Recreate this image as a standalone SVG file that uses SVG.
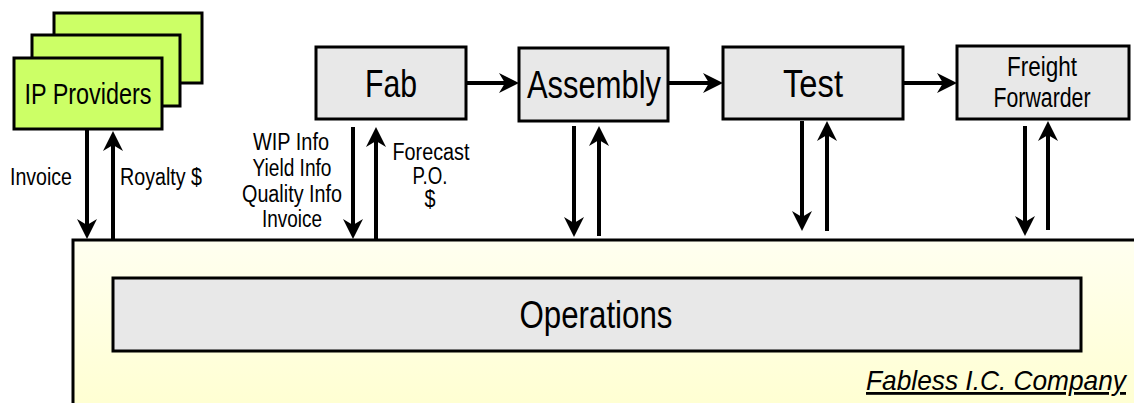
<svg xmlns="http://www.w3.org/2000/svg" width="1134" height="403" viewBox="0 0 1134 403">
<style>
text{font-family:"Liberation Sans Narrow","Arial Narrow","Liberation Sans",Arial,sans-serif;fill:#000;text-anchor:middle}
.box{fill:#E8E8E8;stroke:#000;stroke-width:3}
.ip{fill:#CCFF66;stroke:#000;stroke-width:3}
.big{font-size:39px}
.lbl{font-size:23px}
.arr{stroke:#000;stroke-width:4;fill:none;marker-end:url(#ah)}
</style>
<defs>
<linearGradient id="yel" x1="0" y1="0" x2="0" y2="1">
<stop offset="0" stop-color="#FFFFF0"/>
<stop offset="1" stop-color="#FFFFCC"/>
</linearGradient>
<marker id="ah" markerUnits="userSpaceOnUse" markerWidth="20" markerHeight="20" refX="9" refY="10" orient="auto">
<path d="M0,0 L20,10 L0,20 L6,10 z" fill="#000"/>
</marker>
</defs>
<g id="company">
<rect x="73" y="240" width="1100" height="200" fill="url(#yel)" stroke="#000" stroke-width="3"/>
<text x="1126" y="390" font-size="28" font-style="italic" text-decoration="underline" style="text-anchor:end" textLength="260" lengthAdjust="spacingAndGlyphs">Fabless I.C. Company</text>
</g>
<g id="operations">
<rect class="box" x="113" y="278" width="968" height="73"/>
<text class="big" x="596" y="328" textLength="153" lengthAdjust="spacingAndGlyphs">Operations</text>
</g>
<g id="ip-providers">
<rect class="ip" x="54" y="13" width="148" height="70"/>
<rect class="ip" x="32" y="35" width="148" height="71"/>
<rect class="ip" x="14" y="58" width="148" height="71"/>
<text x="88" y="104" font-size="29" textLength="127" lengthAdjust="spacingAndGlyphs">IP Providers</text>
</g>
<g id="fab">
<rect class="box" x="316" y="47" width="150" height="72"/>
<text class="big" x="391" y="97" textLength="52" lengthAdjust="spacingAndGlyphs">Fab</text>
</g>
<g id="assembly">
<rect class="box" x="519" y="48" width="149" height="73"/>
<text class="big" x="594" y="98" textLength="134" lengthAdjust="spacingAndGlyphs">Assembly</text>
</g>
<g id="test">
<rect class="box" x="723" y="47" width="180" height="72"/>
<text class="big" x="813" y="97" textLength="60" lengthAdjust="spacingAndGlyphs">Test</text>
</g>
<g id="freight-forwarder">
<rect class="box" x="957" y="46" width="172" height="73"/>
<text x="1042" y="76" font-size="27" textLength="70" lengthAdjust="spacingAndGlyphs">Freight</text>
<text x="1042" y="107" font-size="27" textLength="97" lengthAdjust="spacingAndGlyphs">Forwarder</text>
</g>
<g id="connectors">
<line class="arr" x1="466" y1="83" x2="508" y2="83"/>
<line class="arr" x1="668" y1="83" x2="712" y2="83"/>
<line class="arr" x1="903" y1="83" x2="946" y2="83"/>
<line class="arr" x1="87" y1="130" x2="87" y2="228"/>
<line class="arr" x1="113" y1="240" x2="113" y2="142"/>
<line class="arr" x1="353" y1="127" x2="353" y2="228"/>
<line class="arr" x1="376" y1="240" x2="376" y2="138"/>
<line class="arr" x1="574" y1="126" x2="574" y2="226"/>
<line class="arr" x1="599" y1="236" x2="599" y2="137"/>
<line class="arr" x1="802" y1="121" x2="802" y2="220"/>
<line class="arr" x1="827" y1="231" x2="827" y2="132"/>
<line class="arr" x1="1025" y1="126" x2="1025" y2="225"/>
<line class="arr" x1="1048" y1="230" x2="1048" y2="132"/>
</g>
<g id="labels">
<text class="lbl" x="41" y="185" textLength="62" lengthAdjust="spacingAndGlyphs">Invoice</text>
<text class="lbl" x="161" y="185" textLength="82" lengthAdjust="spacingAndGlyphs">Royalty $</text>
<text class="lbl" x="291" y="150" textLength="76" lengthAdjust="spacingAndGlyphs">WIP Info</text>
<text class="lbl" x="292" y="176" textLength="79" lengthAdjust="spacingAndGlyphs">Yield Info</text>
<text class="lbl" x="292" y="202" textLength="100" lengthAdjust="spacingAndGlyphs">Quality Info</text>
<text class="lbl" x="292" y="227" textLength="60" lengthAdjust="spacingAndGlyphs">Invoice</text>
<text class="lbl" x="431" y="160" textLength="77" lengthAdjust="spacingAndGlyphs">Forecast</text>
<text class="lbl" x="430" y="184" textLength="35" lengthAdjust="spacingAndGlyphs">P.O.</text>
<text class="lbl" x="430" y="207" textLength="11" lengthAdjust="spacingAndGlyphs">$</text>
</g>
</svg>
